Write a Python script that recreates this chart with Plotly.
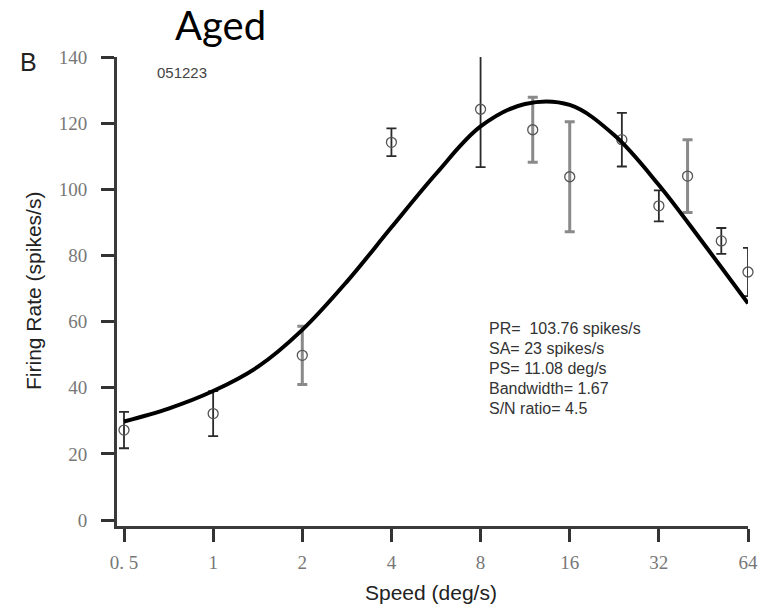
import math
import plotly.graph_objects as go

# ---------------- data ----------------
speeds = [0.5, 1, 2, 4, 8, 12, 16, 24, 32, 40, 52, 64]
rates = [27.2, 32.2, 49.8, 114.2, 124.2, 118.0, 103.8, 115.0, 95.0, 104.0, 84.4, 75.0]
errors = [5.5, 6.8, 8.8, 4.2, 17.5, 9.8, 16.6, 8.1, 4.7, 11.0, 3.9, 7.3]

fit_speeds = [0.5, 0.707, 1, 1.414, 2, 2.83, 4, 5.66, 8, 11.3, 16, 22.6, 32, 45.3, 64]
fit_rates = [29.8, 33.7, 39.0, 46.3, 57.5, 72.1, 88.5, 104.7, 119.0, 125.8, 125.5,
             116.4, 101.3, 83.6, 65.5]

x_tickvals = [0.5, 1, 2, 4, 8, 16, 32, 64]
x_ticktext = ["0. 5", "1", "2", "4", "8", "16", "32", "64"]
y_tickvals = [0, 20, 40, 60, 80, 100, 120, 140]

fit_text = ["PR=  103.76 spikes/s", "SA= 23 spikes/s", "PS= 11.08 deg/s",
            "Bandwidth= 1.67", "S/N ratio= 4.5"]

# ---------------- style ----------------
gray_idx = [2, 5, 6, 9]
dark_idx = [i for i in range(len(speeds)) if i not in gray_idx]

fig = go.Figure()

def add_points(idx, color, thick):
    fig.add_trace(go.Scatter(
        x=[speeds[i] for i in idx],
        y=[rates[i] for i in idx],
        mode="markers",
        marker=dict(symbol="circle-open", size=10, color="#555555",
                    line=dict(width=1.3, color="#555555")),
        error_y=dict(type="data", array=[errors[i] for i in idx],
                     color=color, thickness=thick, width=5),
        cliponaxis=False,
        showlegend=False, hoverinfo="skip",
    ))

add_points(dark_idx, "#2a2a2a", 1.8)
add_points(gray_idx, "#8a8a8a", 3)

fig.add_trace(go.Scatter(
    x=fit_speeds, y=fit_rates, mode="lines",
    line=dict(color="black", width=4, shape="spline", smoothing=1.0),
    showlegend=False, hoverinfo="skip",
))

serif = "Liberation Serif, DejaVu Serif, serif"
sans = "Liberation Sans, Arial, sans-serif"

x_left = math.log10(0.5) - (7 / 89.1) * math.log10(2)
fig.update_xaxes(
    type="log", range=[x_left, math.log10(64)],
    tickvals=x_tickvals, ticktext=x_ticktext,
    showline=True, linecolor="#3a3a3a", linewidth=3,
    ticks="outside", ticklen=13, tickwidth=2.5, tickcolor="#333333",
    tickfont=dict(family=serif, size=19, color="#777777"),
    ticklabelstandoff=4,
    showgrid=False, zeroline=False,
)
fig.update_yaxes(
    range=[-1.8, 140],
    tickvals=y_tickvals,
    showline=True, linecolor="#3a3a3a", linewidth=3,
    ticks="outside", ticklen=13, tickwidth=2.5, tickcolor="#333333",
    tickfont=dict(family=serif, size=19, color="#777777"),
    ticklabelstandoff=10,
    showgrid=False, zeroline=False,
)

annotations = [
    dict(text="Aged", x=220, y=25, font=dict(family="Lato, Open Sans, sans-serif", size=40, color="black")),
    dict(text="B", x=28, y=62, font=dict(family=sans, size=25, color="#222222")),
    dict(text="051223", x=182, y=73, font=dict(family=sans, size=15, color="#444444")),
    dict(text="Speed (deg/s)", x=431, y=592, font=dict(family=sans, size=21, color="#222222")),
    dict(text="Firing Rate (spikes/s)", x=33, y=291, textangle=-90,
         font=dict(family=sans, size=21, color="#222222")),
]
line_y = [328, 348, 368, 388, 408]
for t, yy in zip(fit_text, line_y):
    annotations.append(dict(text=t, x=487, y=yy, xanchor="left",
                            font=dict(family=sans, size=16, color="#333333")))

W, H = 773, 608
l, r, t_, b = 117, 25, 57, 82
pw, ph = W - l - r, H - t_ - b
ann_objs = []
for a in annotations:
    d = dict(xref="paper", yref="paper", showarrow=False,
             xanchor=a.get("xanchor", "center"), yanchor="middle")
    d.update({k: v for k, v in a.items() if k not in ("x", "y", "xanchor")})
    d["x"] = (a["x"] - l) / pw
    d["y"] = 1 - (a["y"] - t_) / ph
    ann_objs.append(d)

fig.update_layout(
    width=W, height=H,
    margin=dict(l=l, r=r, t=t_, b=b),
    paper_bgcolor="white", plot_bgcolor="white",
    annotations=ann_objs,
)

fig.write_html("out.html")
